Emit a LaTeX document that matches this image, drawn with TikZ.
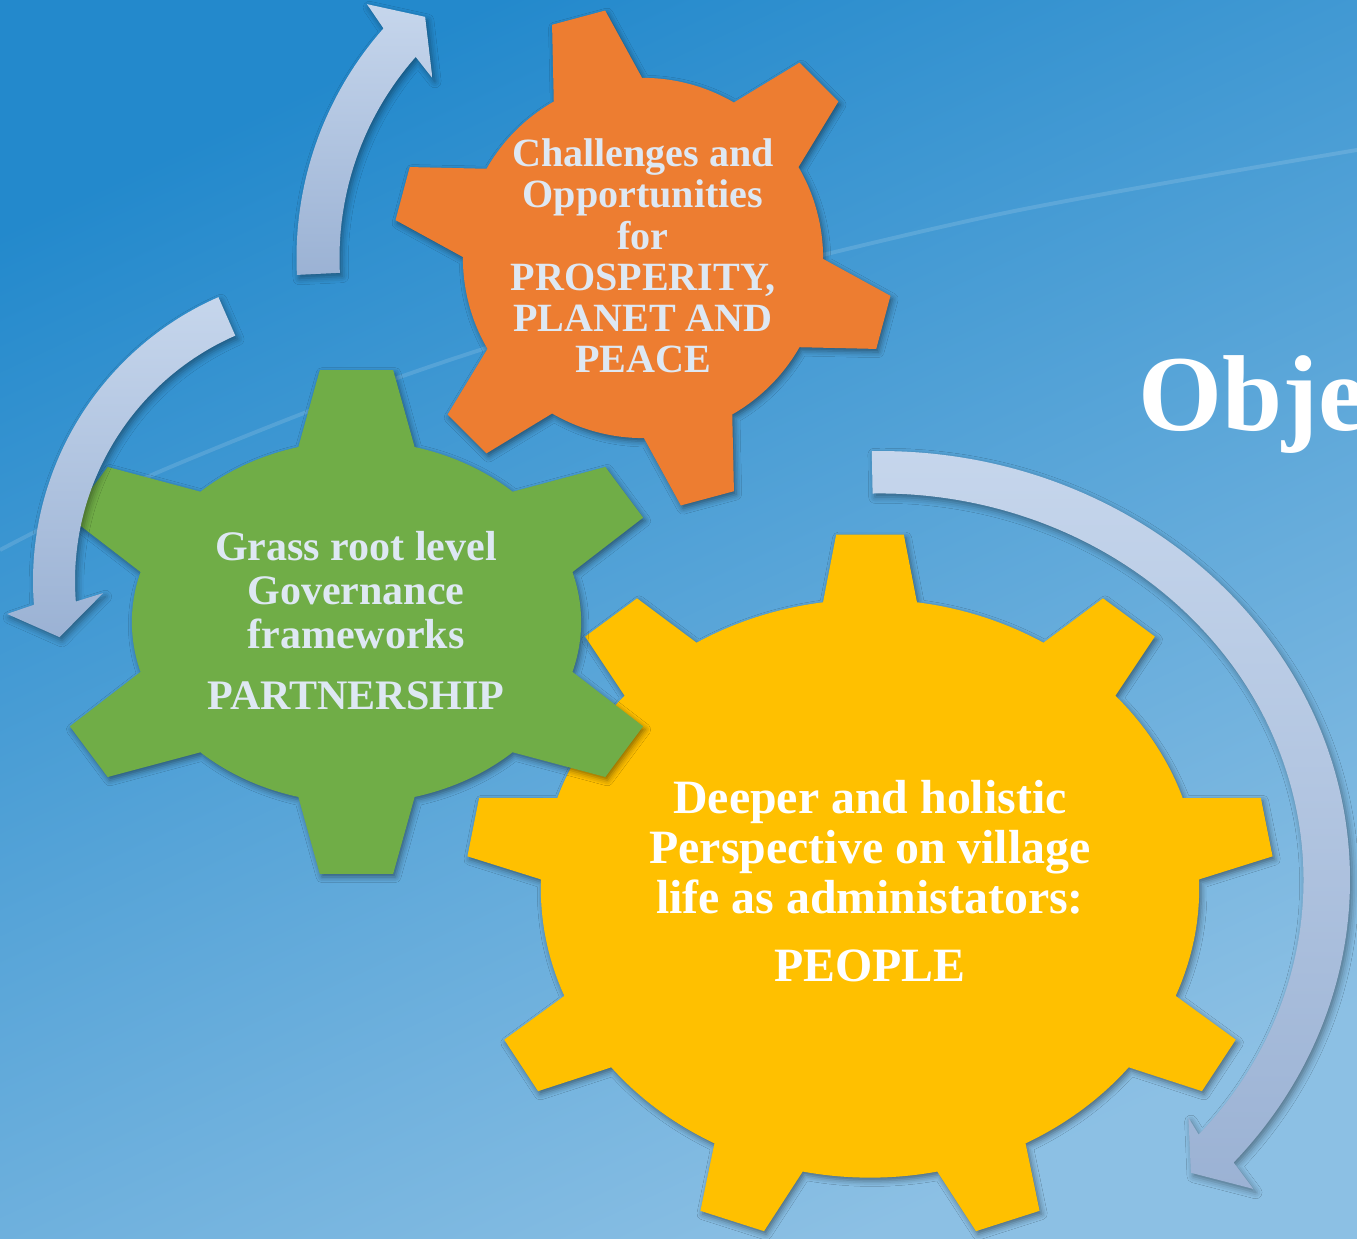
\documentclass[tikz,border=0pt]{standalone}
\usepackage{fontspec}
\setmainfont{Liberation Serif}
\usetikzlibrary{shadows.blur}
\definecolor{bgtop}{RGB}{35,137,204}
\definecolor{bgbot}{RGB}{140,192,228}
\definecolor{gearorange}{RGB}{237,125,49}
\definecolor{geargreen}{RGB}{112,173,71}
\definecolor{gearyellow}{RGB}{255,192,0}
\definecolor{arrowlight}{RGB}{198,214,236}
\definecolor{arrowdark}{RGB}{155,178,212}
\definecolor{textlight}{RGB}{222,232,243}
\begin{document}
\begin{tikzpicture}[x=0.01cm,y=0.01cm,
  gearshadow/.style={blur shadow={shadow xshift=0.6pt,shadow yshift=-0.9pt,shadow blur radius=1.6pt,shadow opacity=45}},
  arrowshape/.style={top color=arrowlight,bottom color=arrowdark,
    blur shadow={shadow xshift=0.7pt,shadow yshift=-1pt,shadow blur radius=1.8pt,shadow opacity=40}},
  geartext/.style={align=center,inner sep=0pt}
]
\useasboundingbox (0,0) rectangle (1357,1239);
\clip (0,0) rectangle (1357,1239);
% background
\shade[top color=bgtop,bottom color=bgbot,shading angle=25] (0,0) rectangle (1357,1239);
\draw[white,opacity=0.13,line width=1.1pt] plot[smooth] coordinates {(0,689) (154,765) (400,862) (650,940) (1000,1025) (1357,1089)};

% yellow gear
\begin{scope}[shift={(870,350.5)},x=3.29cm,y=2.89cm]
\fill[gearyellow,gearshadow] ({10-8.2}:1)
  \foreach \a/\n in {10/50,50/90,90/130,130/170,170/210,210/250,250/290,290/330,330/370}{
    -- ({\a-4.8}:1.228) -- ({\a+4.8}:1.228) -- ({\a+8.2}:1)
    arc[start angle={\a+8.2},end angle={\n-8.2},radius=1]
  } -- cycle;
\end{scope}

% green gear
\begin{scope}[shift={(356.5,617)},x=2.245cm,y=1.81cm]
\fill[geargreen,gearshadow] ({31-15}:1)
  \foreach \a/\n in {31/90,90/149,149/211,211/270,270/329,329/391}{
    -- ({\a-6.7}:1.40) -- ({\a+6.7}:1.40) -- ({\a+15}:1)
    arc[start angle={\a+15},end angle={\n-15},radius=1]
  } -- cycle;
\end{scope}

% orange gear
\begin{scope}[shift={(643,981)},x=1.8cm,y=1.8cm]
\fill[gearorange,gearshadow] ({105-14.7}:1)
  \foreach \a/\n in {105/165,165/225,225/285,285/345,345/405,405/465}{
    -- ({\a-6.3}:1.39) -- ({\a+6.3}:1.39) -- ({\a+14.7}:1)
    arc[start angle={\a+14.7},end angle={\n-14.7},radius=1]
  } -- cycle;
\end{scope}

% arrow around orange gear
\begin{scope}[shift={(643,981)}]
\path[arrowshape] (182.8:346.5) arc[start angle=182.8,end angle=138.5,radius=346.5]
  -- (137.4:375) -- (132.1:325) -- (139.5:277) -- (138.5:303.5)
  arc[start angle=138.5,end angle=182.8,radius=303.5] -- cycle;
\end{scope}

% arrow around green gear
\begin{scope}[shift={(343,658)}]
\path[arrowshape] (113.7:310) arc[start angle=113.7,end angle=184.4,radius=310]
  -- (185.6:337.6) -- (191.2:289) -- (182.9:240.3) -- (184.4:268)
  arc[start angle=184.4,end angle=113.7,radius=268] -- cycle;
\end{scope}

% arrow around yellow gear
\begin{scope}[shift={(880,359)},x=4.465cm,y=4.075cm]
\path[arrowshape] (91:1.052) arc[start angle=91,end angle=-41.2,radius=1.052]
  -- (-42.2:1.128) -- (-45.9:1.0) -- (-40.2:0.904) -- (-41.2:0.948)
  arc[start angle=-41.2,end angle=91,radius=0.948] -- cycle;
\end{scope}

% texts
\node[geartext,text=textlight,font=\bfseries\fontsize{11.4}{11.7}\selectfont] (tOrange) at (643,983)
  {Challenges and\\Opportunities\\for\\PROSPERITY,\\PLANET AND\\PEACE};
\node[geartext,text=textlight,font=\bfseries\fontsize{11.95}{12.5}\selectfont] (tGreen) at (356,618)
  {Grass root level\\Governance\\frameworks\\[4.8pt]PARTNERSHIP};
\node[geartext,text=white,font=\bfseries\fontsize{13.6}{14.2}\selectfont] (tYellow) at (870,358)
  {Deeper and holistic\\Perspective on village\\life as administators:\\[5.1pt]PEOPLE};
\node[text=white,font=\bfseries\fontsize{30.7}{32}\selectfont,anchor=base west,inner sep=0pt] (title) at (1138,808) {Obje};
\end{tikzpicture}
\end{document}
